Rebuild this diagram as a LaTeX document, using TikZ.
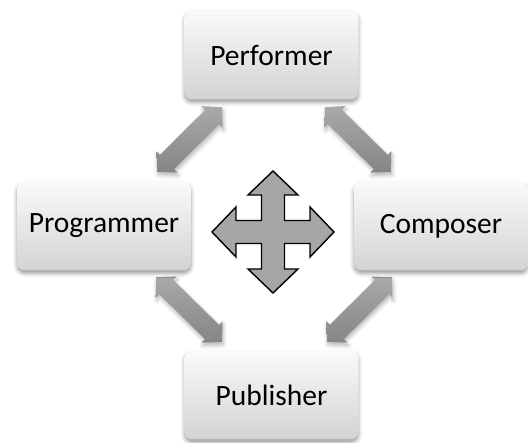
\documentclass[tikz,border=0pt]{standalone}
\usepackage{fontspec}
\setmainfont{Carlito}
\usetikzlibrary{calc,shadows.blur}
\definecolor{arrtop}{HTML}{A9A9A9}
\definecolor{arrbot}{HTML}{858585}
\definecolor{boxtop}{HTML}{FAFAFA}
\definecolor{boxbot}{HTML}{D3D3D3}
\definecolor{crossfill}{HTML}{A6A6A6}
\def\arhl{14pt}
\def\arhw{15pt}
\def\arsw{10pt}
\newcommand\dblarrow[2]{%
\path[blockarrow] (#1)
 -- ($(#1)!\arhl!(#2)!\arhw!90:(#2)$)
 -- ($(#1)!\arhl!(#2)!\arsw!90:(#2)$)
 -- ($(#2)!\arhl!(#1)!\arsw!-90:(#1)$)
 -- ($(#2)!\arhl!(#1)!\arhw!-90:(#1)$)
 -- (#2)
 -- ($(#2)!\arhl!(#1)!\arhw!90:(#1)$)
 -- ($(#2)!\arhl!(#1)!\arsw!90:(#1)$)
 -- ($(#1)!\arhl!(#2)!\arsw!-90:(#2)$)
 -- ($(#1)!\arhl!(#2)!\arhw!-90:(#2)$)
 -- cycle;}
\tikzset{
  box/.style={rounded corners=8pt, minimum width=174pt, minimum height=89pt,
    inner sep=0pt, top color=boxtop, bottom color=boxbot, draw=none,
    blur shadow={shadow xshift=0pt, shadow yshift=-3pt, shadow blur radius=4pt, shadow opacity=40},
    font=\fontsize{29.5}{33}\selectfont},
  blockarrow/.style={top color=arrtop, bottom color=arrbot,
    blur shadow={shadow xshift=1pt, shadow yshift=-3pt, shadow blur radius=4pt, shadow opacity=30}},
  crossarrow/.style={fill=crossfill, draw=black, line width=1.4pt, line join=miter},
}
\begin{document}
\begin{tikzpicture}[x=1pt,y=-1pt]
\useasboundingbox (0,0) rectangle (528,443);
% node placeholders for anchors (boxes drawn after the arrows)
\path (271.5,55) node[minimum width=174pt, minimum height=89pt, inner sep=0pt] (perf) {}
      (271.5,395) node[minimum width=174pt, minimum height=89pt, inner sep=0pt] (pub) {}
      (104,226) node[minimum width=174pt, minimum height=89pt, inner sep=0pt] (prog) {}
      (441,226) node[minimum width=174pt, minimum height=89pt, inner sep=0pt] (comp) {};
\coordinate (a1) at ([shift={(-49.5,7.5)}]perf.south);
\coordinate (a2) at ([shift={(53.5,7.5)}]perf.south);
\coordinate (b1) at ([shift={(-34,-9.5)}]prog.north east);
\coordinate (b2) at ([shift={(37,-9.5)}]comp.north west);
\coordinate (a3) at ([shift={(-35,6.5)}]prog.south east);
\coordinate (a4) at ([shift={(38,6.5)}]comp.south west);
\coordinate (b3) at ([shift={(-49.5,-8.5)}]pub.north);
\coordinate (b4) at ([shift={(55.5,-8.5)}]pub.north);
\dblarrow{a1}{b1}
\dblarrow{a2}{b2}
\dblarrow{a3}{b3}
\dblarrow{a4}{b4}
% boxes
\node[box] (perfbox) at (perf) {Performer};
\node[box] (pubbox) at (pub) {Publisher};
\node[box] (progbox) at (prog) {Programmer};
\node[box] (compbox) at (comp) {Composer};
% central four-way arrow
\coordinate (ctr) at (273,232);
\draw[crossarrow, shift={(ctr)}]
 (0,-61) -- (25,-37) -- (11.5,-37) -- (11.5,-11.5) -- (37,-11.5) -- (37,-25)
 -- (61,0) -- (37,25) -- (37,11.5) -- (11.5,11.5) -- (11.5,37) -- (25,37)
 -- (0,61) -- (-25,37) -- (-11.5,37) -- (-11.5,11.5) -- (-37,11.5) -- (-37,25)
 -- (-61,0) -- (-37,-25) -- (-37,-11.5) -- (-11.5,-11.5) -- (-11.5,-37) -- (-25,-37)
 -- cycle;
\end{tikzpicture}
\end{document}
